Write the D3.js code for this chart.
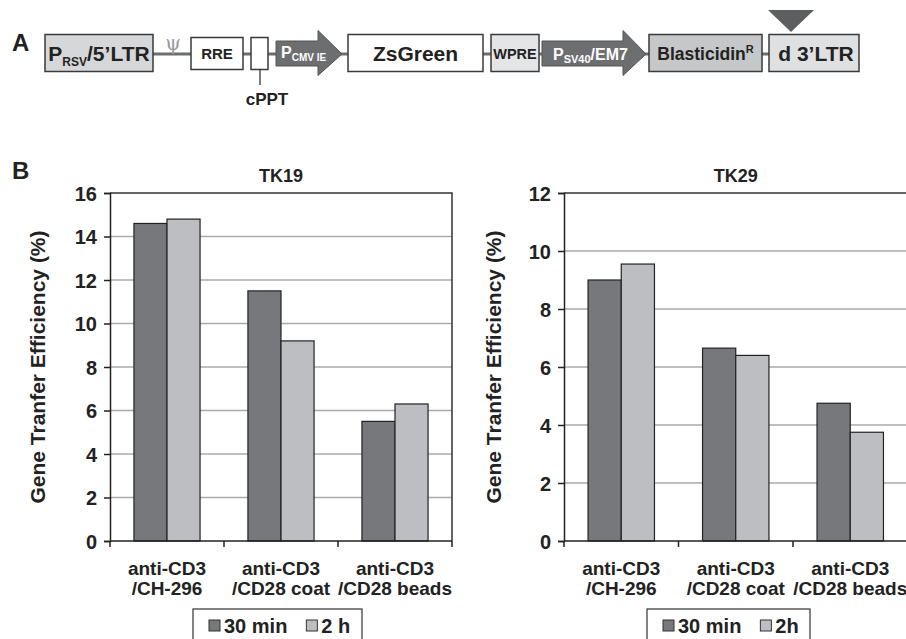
<!DOCTYPE html>
<html>
<head>
<meta charset="utf-8">
<script src="https://cdn.jsdelivr.net/npm/d3@7"></script>
<style>
  body { margin: 0; background: #fff; }
  svg { display: block; font-family: "Liberation Sans", Arial, sans-serif; font-weight: bold; }
</style>
</head>
<body>
<div id="chart"></div>
<script>
// data
const categories = [["anti-CD3", "/CH-296"], ["anti-CD3", "/CD28 coat"], ["anti-CD3", "/CD28 beads"]];
const seriesTK19 = ["30 min", "2 h"];
const seriesTK29 = ["30 min", "2h"];
const tk19_30min = [14.6, 11.5, 5.5];
const tk19_2h = [14.8, 9.2, 6.3];
const tk29_30min = [9.0, 6.65, 4.75];
const tk29_2h = [9.55, 6.4, 3.75];
const tk19Ticks = [0, 2, 4, 6, 8, 10, 12, 14, 16];
const tk29Ticks = [0, 2, 4, 6, 8, 10, 12];

const colors = ["#77787b", "#bdbec2"];
const W = 906, H = 639;

const svg = d3.select("#chart").append("svg")
  .attr("width", W).attr("height", H);

/****** panel A: construct map ********/
const lineY = 54;
svg.append("text").attr("x", 12).attr("y", 51).attr("font-size", 24).attr("fill", "#222").text("A");

// backbone line
svg.append("line").attr("x1", 153).attr("x2", 769).attr("y1", lineY).attr("y2", lineY)
  .attr("stroke", "#6d6e70").attr("stroke-width", 3);

const boxes = [
  {x0: 45, x1: 153, y0: 34.5, y1: 71.5, fill: "#d6d7d9"},
  {x0: 191, x1: 243, y0: 37.5, y1: 69.5, fill: "#fff"},
  {x0: 251, x1: 268, y0: 37.5, y1: 69.5, fill: "#fff"},
  {x0: 348, x1: 483, y0: 34.5, y1: 71.5, fill: "#fff"},
  {x0: 491, x1: 539, y0: 34.5, y1: 71.5, fill: "#e4e5e6"},
  {x0: 649, x1: 762, y0: 34.5, y1: 71.5, fill: "#c6c7c9"},
  {x0: 769, x1: 859, y0: 34.5, y1: 71.5, fill: "#dfe0e1"}
];
svg.selectAll("rect.box").data(boxes).join("rect")
  .attr("class", "box")
  .attr("x", d => d.x0).attr("y", d => d.y0)
  .attr("width", d => d.x1 - d.x0).attr("height", d => d.y1 - d.y0)
  .attr("fill", d => d.fill).attr("stroke", "#3a3a3a").attr("stroke-width", 1.5);

// arrows (promoters)
const arrows = [
  {x0: 276, xh: 318, x1: 342},
  {x0: 542, xh: 623, x1: 646}
];
svg.selectAll("path.arrow").data(arrows).join("path")
  .attr("class", "arrow")
  .attr("d", d => `M${d.x0},41 L${d.xh},41 L${d.xh},30.5 L${d.x1},${lineY} L${d.xh},75.5 L${d.xh},66 L${d.x0},66 Z`)
  .attr("fill", "#6d6e70").attr("stroke", "#555");

// cPPT pointer
svg.append("line").attr("x1", 260).attr("x2", 260).attr("y1", 69.5).attr("y2", 85)
  .attr("stroke", "#222").attr("stroke-width", 1.2);
svg.append("text").attr("x", 267).attr("y", 105).attr("text-anchor", "middle")
  .attr("font-size", 17).attr("fill", "#222").text("cPPT");

// psi
svg.append("text").attr("x", 173).attr("y", 50).attr("text-anchor", "middle")
  .attr("font-size", 20).attr("font-weight", "normal").attr("fill", "#9a9a9a")
  .attr("font-family", "DejaVu Serif").text("\u03C8");

// triangle above 3'LTR
svg.append("path").attr("d", "M768,10 L814,10 L791,32 Z").attr("fill", "#5d5e60");

// box labels
const t1 = svg.append("text").attr("x", 99).attr("y", 61).attr("text-anchor", "middle")
  .attr("font-size", 21).attr("fill", "#222");
t1.append("tspan").text("P");
t1.append("tspan").attr("font-size", 12).attr("dy", 5).text("RSV");
t1.append("tspan").attr("dy", -5).text("/5\u2019LTR");

svg.append("text").attr("x", 217).attr("y", 59).attr("text-anchor", "middle")
  .attr("font-size", 15).attr("fill", "#222").text("RRE");

const t2 = svg.append("text").attr("x", 281).attr("y", 58).attr("font-size", 16).attr("fill", "#fff");
t2.append("tspan").text("P");
t2.append("tspan").attr("font-size", 10).attr("dy", 3).text("CMV IE");

svg.append("text").attr("x", 415.5).attr("y", 61).attr("text-anchor", "middle")
  .attr("font-size", 21).attr("fill", "#222").text("ZsGreen");
svg.append("text").attr("x", 515).attr("y", 59).attr("text-anchor", "middle")
  .attr("font-size", 14.5).attr("fill", "#222").text("WPRE");

const t3 = svg.append("text").attr("x", 553).attr("y", 60).attr("font-size", 16).attr("fill", "#fff");
t3.append("tspan").text("P");
t3.append("tspan").attr("font-size", 11).attr("dy", 3).text("SV40");
t3.append("tspan").attr("dy", -3).text("/EM7");

const t4 = svg.append("text").attr("x", 705.5).attr("y", 60).attr("text-anchor", "middle")
  .attr("font-size", 17.5).attr("fill", "#222");
t4.append("tspan").text("Blasticidin");
t4.append("tspan").attr("font-size", 11).attr("dy", -7).text("R");

svg.append("text").attr("x", 816).attr("y", 61).attr("text-anchor", "middle")
  .attr("font-size", 21).attr("fill", "#222").text("d 3\u2019LTR");

/****** panel B: bar charts ********/
svg.append("text").attr("x", 12).attr("y", 179).attr("font-size", 24).attr("fill", "#222").text("B");

const drawChart = function(opt) {
  const g = svg.append("g");
  const x = d3.scaleBand().domain(d3.range(categories.length))
    .range([opt.left, opt.right]);
  const x1 = d3.scaleBand().domain(d3.range(opt.series.length))
    .range([x.bandwidth() * 0.21, x.bandwidth() * 0.79]);
  const y = d3.scaleLinear().domain([0, opt.max]).range([541, 193]);

  // grid
  g.selectAll("line.grid").data(opt.ticks.filter(t => t > 0 && t < opt.max)).join("line")
    .attr("class", "grid")
    .attr("x1", opt.left).attr("x2", opt.right)
    .attr("y1", d => y(d)).attr("y2", d => y(d))
    .attr("stroke", "#aaaaaa").attr("stroke-width", 1.5);

  // plot frame: top and right
  g.append("path")
    .attr("d", `M${opt.left},${y(opt.max)} L${opt.right},${y(opt.max)} L${opt.right},${y(0)}`)
    .attr("fill", "none").attr("stroke", "#333").attr("stroke-width", 1.5);

  // bars
  const data = [];
  opt.values.forEach((vals, s) => vals.forEach((v, i) => data.push({i, s, v})));
  g.selectAll("rect.bar").data(data).join("rect")
    .attr("class", "bar")
    .attr("x", d => x(d.i) + x1(d.s))
    .attr("width", x1.bandwidth())
    .attr("y", d => y(d.v))
    .attr("height", d => y(0) - y(d.v))
    .attr("fill", d => colors[d.s])
    .attr("stroke", "#222").attr("stroke-width", 1.2);

  // y axis
  const ya = g.append("g").attr("transform", `translate(${opt.left},0)`)
    .call(d3.axisLeft(y).tickValues(opt.ticks).tickSize(6).tickPadding(7));
  ya.select(".domain").attr("stroke", "#222").attr("stroke-width", 1.5);
  ya.selectAll(".tick line").attr("stroke", "#222").attr("stroke-width", 1.5);
  ya.selectAll("text").attr("font-size", 20).attr("font-family", "Liberation Sans")
    .attr("font-weight", "bold").attr("fill", "#222").attr("dy", "0.36em");

  // x axis
  const edges = d3.range(categories.length + 1).map(i => opt.left + i * x.step());
  g.append("line").attr("x1", opt.left).attr("x2", opt.right)
    .attr("y1", y(0)).attr("y2", y(0)).attr("stroke", "#222").attr("stroke-width", 1.5);
  g.selectAll("line.xt").data(edges).join("line")
    .attr("class", "xt")
    .attr("x1", d => d).attr("x2", d => d)
    .attr("y1", y(0)).attr("y2", y(0) + 6)
    .attr("stroke", "#222").attr("stroke-width", 1.5);
  categories.forEach((c, i) => {
    const t = g.append("text").attr("text-anchor", "middle")
      .attr("font-size", 19).attr("fill", "#222");
    c.forEach((line, k) => {
      t.append("tspan").attr("x", x(i) + x.bandwidth() / 2).attr("y", 575 + k * 20).text(line);
    });
  });

  // title
  g.append("text").attr("x", (opt.left + opt.right) / 2).attr("y", 182)
    .attr("text-anchor", "middle").attr("font-size", 18).attr("fill", "#222").text(opt.title);

  // y label
  g.append("text")
    .attr("transform", `translate(${opt.labelX},367) rotate(-90)`)
    .attr("text-anchor", "middle").attr("font-size", 21).attr("fill", "#222")
    .text("Gene Tranfer Efficiency (%)");

  // legend
  const lg = g.append("g").attr("transform", `translate(${opt.legendX},609)`);
  lg.append("rect").attr("width", opt.legendW).attr("height", 40)
    .attr("fill", "#fff").attr("stroke", "#333").attr("stroke-width", 1.2);
  let cx = 16;
  opt.series.forEach((s, k) => {
    lg.append("rect").attr("x", cx).attr("y", 11).attr("width", 11).attr("height", 11)
      .attr("fill", colors[k]).attr("stroke", "#333");
    const txt = lg.append("text").attr("x", cx + 15).attr("y", 24)
      .attr("font-size", 20).attr("fill", "#222").text(s);
    cx += 15 + txt.node().getComputedTextLength() + 19;
  });
}

drawChart({title: "TK19", left: 110, right: 452, max: 16, ticks: tk19Ticks,
  values: [tk19_30min, tk19_2h], series: seriesTK19, labelX: 45, legendX: 193, legendW: 169});
drawChart({title: "TK29", left: 564, right: 907.5, max: 12, ticks: tk29Ticks,
  values: [tk29_30min, tk29_2h], series: seriesTK29, labelX: 501, legendX: 647, legendW: 163});
</script>
</body>
</html>
